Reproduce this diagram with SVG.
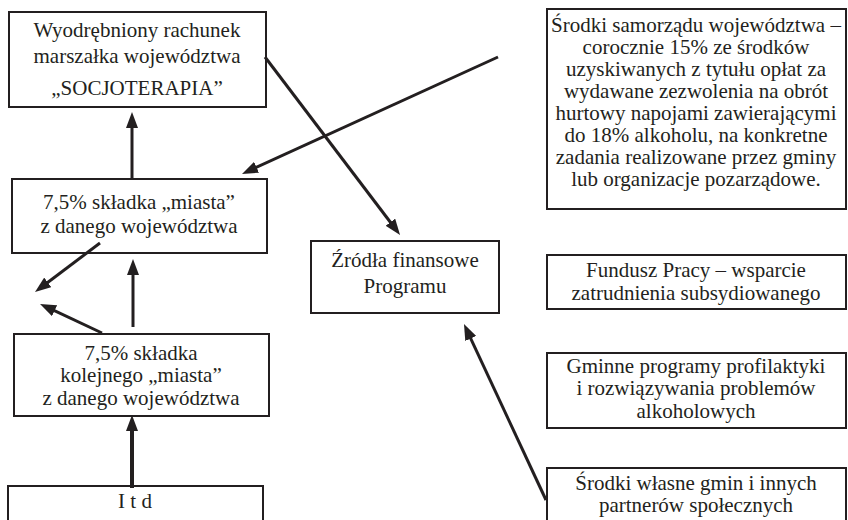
<svg xmlns="http://www.w3.org/2000/svg" width="848" height="520" viewBox="0 0 848 520">
<style>
.box{fill:#fff;stroke:#231f20;stroke-width:2}
.t{font-family:"Liberation Serif","Times New Roman",serif;font-size:21px;fill:#231f20;text-anchor:middle}
.c{stroke:#231f20;stroke-width:3;fill:none;marker-end:url(#ah)}
</style>
<defs>
<marker id="ah" viewBox="0 0 16 12" refX="6" refY="6" markerWidth="16" markerHeight="12" markerUnits="userSpaceOnUse" orient="auto">
<path d="M0,0 L16,6 L0,12 z" fill="#231f20"/>
</marker>
</defs>
<rect width="848" height="520" fill="#fff"/>
<g id="n-rachunek">
<rect class="box" x="9" y="12" width="257" height="95"/>
<text class="t" x="137" y="37">Wyodrębniony rachunek</text>
<text class="t" x="137" y="63">marszałka województwa</text>
<text class="t" x="137" y="95">„SOCJOTERAPIA”</text>
</g>
<g id="n-miasta">
<rect class="box" x="12" y="179" width="255" height="74"/>
<text class="t" x="139" y="209">7,5% składka „miasta”</text>
<text class="t" x="139" y="233">z danego województwa</text>
</g>
<g id="n-kolejnego">
<rect class="box" x="14" y="334" width="255" height="82"/>
<text class="t" x="141" y="360">7,5% składka</text>
<text class="t" x="141" y="382">kolejnego „miasta”</text>
<text class="t" x="141" y="405">z danego województwa</text>
</g>
<g id="n-itd">
<rect class="box" x="8" y="486" width="255" height="40"/>
<text class="t" x="135" y="508">I t d</text>
</g>
<g id="n-zrodla">
<rect class="box" x="311" y="241" width="188" height="72"/>
<text class="t" x="405" y="267">Źródła finansowe</text>
<text class="t" x="405" y="293">Programu</text>
</g>
<g id="n-samorzad">
<rect class="box" x="547" y="9" width="299" height="200"/>
<text class="t" x="696" y="32">Środki samorządu województwa –</text>
<text class="t" x="696" y="54">corocznie 15% ze środków</text>
<text class="t" x="696" y="76">uzyskiwanych z tytułu opłat za</text>
<text class="t" x="696" y="98">wydawane zezwolenia na obrót</text>
<text class="t" x="696" y="120">hurtowy napojami zawierającymi</text>
<text class="t" x="696" y="142">do 18% alkoholu, na konkretne</text>
<text class="t" x="696" y="164">zadania realizowane przez gminy</text>
<text class="t" x="696" y="186">lub organizacje pozarządowe.</text>
</g>
<g id="n-fundusz">
<rect class="box" x="547" y="255" width="299" height="54"/>
<text class="t" x="696" y="277">Fundusz Pracy – wsparcie</text>
<text class="t" x="696" y="300">zatrudnienia subsydiowanego</text>
</g>
<g id="n-gminne">
<rect class="box" x="547" y="353" width="299" height="75"/>
<text class="t" x="696" y="373">Gminne programy profilaktyki</text>
<text class="t" x="696" y="395">i rozwiązywania problemów</text>
<text class="t" x="696" y="418">alkoholowych</text>
</g>
<g id="n-wlasne">
<rect class="box" x="547" y="468" width="299" height="60"/>
<text class="t" x="696" y="490">Środki własne gmin i innych</text>
<text class="t" x="696" y="512">partnerów społecznych</text>
</g>
<g id="connectors">
<path class="c" d="M132,179 L132,122"/>
<path class="c" d="M133,327 L133,269"/>
<path class="c" d="M100,243 L43,286"/>
<path class="c" d="M102,333 L49.1,308.2"/>
<path class="c" d="M132,488 L132,425" style="stroke-width:4"/>
<path class="c" d="M265,57 L394,227"/>
<path class="c" d="M498,57 L251.1,169.8"/>
<path class="c" d="M546,500 L468.2,333.1"/>
</g>
</svg>
